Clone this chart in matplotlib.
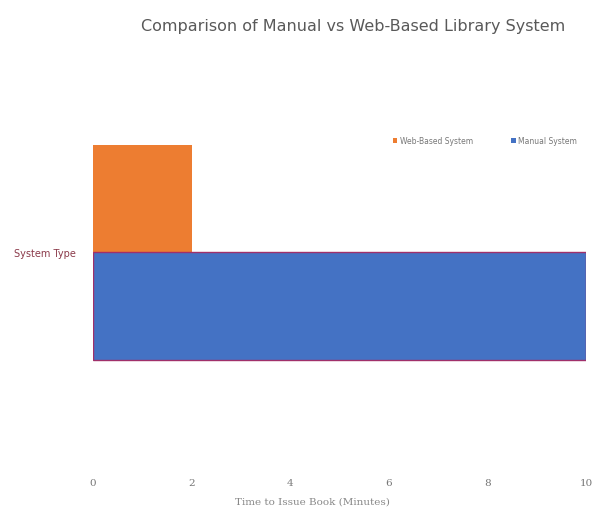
import matplotlib.pyplot as plt
from matplotlib.patches import Patch

# Datos
categoria = ["System Type"]
series = ["Web-Based System", "Manual System"]
valores = [2, 10]          # minutos
colores = ["#ED7D31", "#4472C4"]
bordes = ["none", "#a0306a"]
x_ticks = [0, 2, 4, 6, 8, 10]

fig = plt.figure(figsize=(6.07, 5.10), dpi=100)
ax = fig.add_axes([93 / 607, 1 - 465 / 510, (586 - 93) / 607, (465 - 60) / 510])

alto = 0.5
offsets = [alto / 2, -alto / 2]   # Web-Based arriba, Manual abajo
for nombre, v, c, b, off in zip(series, valores, colores, bordes, offsets):
    ax.barh(0 + off, v, height=alto, color=c, edgecolor=b, linewidth=1.0, label=nombre, zorder=2)

ax.set_xlim(0, 10)
ax.set_ylim(-0.986, 0.898)
ax.set_xticks(x_ticks)
ax.set_xticklabels([str(t) for t in x_ticks], fontsize=7.5, color="#777777", family="DejaVu Serif")
ax.set_yticks([0])
ax.set_yticklabels(categoria, fontsize=7, color="#8b3a4a")
ax.tick_params(length=0)
ax.tick_params(axis="x", pad=10)
ax.tick_params(axis="y", pad=12)
for s in ax.spines.values():
    s.set_visible(False)

# titulo del eje x
fig.text(312 / 607, 1 - 502 / 510, "Time to Issue Book (Minutes)", ha="center", va="center",
         fontsize=7.5, color="#888888", family="DejaVu Serif")

fig.text(353 / 607, 1 - 27 / 510, "Comparison of Manual vs Web-Based Library System",
         ha="center", va="center", fontsize=11.5, color="#595959")

handles = [Patch(facecolor=c, label=n) for n, c in zip(series, colores)]
fig.legend(handles=handles, loc="center left", bbox_to_anchor=(386 / 607, 1 - 142 / 510),
           ncol=2, frameon=False, fontsize=5.5, handlelength=0.6, handleheight=0.6,
           handletextpad=0.3, columnspacing=5.0, labelcolor="#777777")

fig.savefig("out.png", dpi=100)
